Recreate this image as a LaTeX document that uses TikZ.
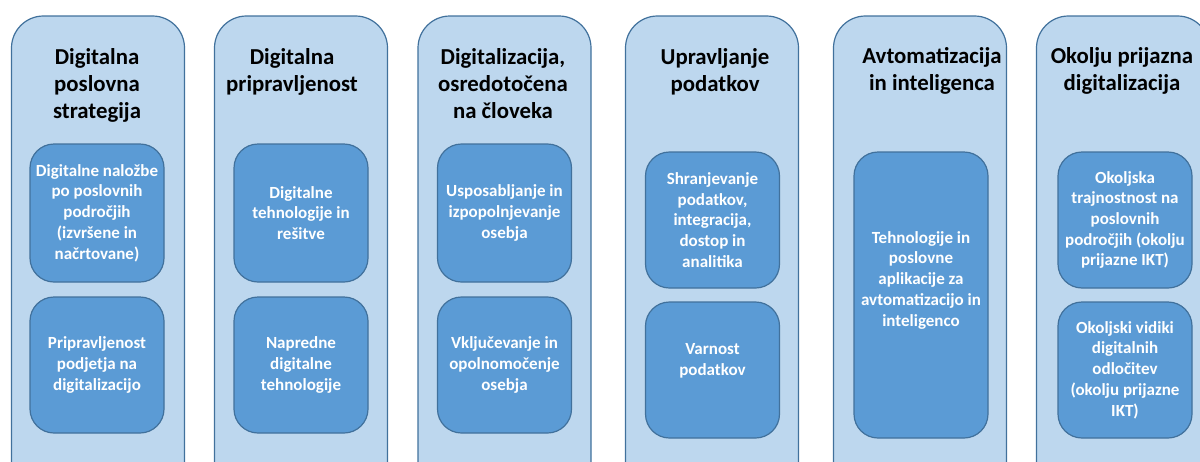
\documentclass[tikz,border=0pt]{standalone}
\usepackage{fontspec}
\setmainfont{Carlito}
\usepackage{xcolor}
\usepackage{tikz}

\definecolor{pillarblue}{HTML}{BDD7EE}
\definecolor{itemblue}{HTML}{5B9BD5}
\definecolor{edgeblue}{HTML}{41719C}

\begin{document}
\begin{tikzpicture}[x=1pt, y=-1pt,
    pillar/.style={draw=edgeblue, line width=1.2pt, fill=pillarblue, rectangle, rounded corners=32pt, minimum width=173pt, minimum height=476pt},
    heading/.style={anchor=north, inner sep=0pt, align=center, font=\fontsize{22.8}{27}\selectfont\bfseries},
    item/.style={draw=edgeblue, line width=1.2pt, fill=itemblue, rectangle, rounded corners=24pt, minimum width=134pt, text=white, align=center, inner sep=0pt, font=\fontsize{17}{20.7}\selectfont\bfseries}]
            \useasboundingbox (0,0) rectangle (1200,461);
            \clip (0,0) rectangle (1200,461);

            % columns
            \node[pillar] (strategija) at (98,254) {};
            \node[pillar] (pripravljenost) at (301,254) {};
            \node[pillar] (clovek) at (504.5,254) {};
            \node[pillar] (podatki) at (712,254) {};
            \node[pillar] (avtomatizacija) at (920,254) {};
            \node[pillar] (okolje) at (1123,254) {};

            % headings
            \node[heading] (strategijaT) at (97,48) {Digitalna\\poslovna\\strategija};
            \node[heading] (pripravljenostT) at (292,48) {Digitalna\\pripravljenost};
            \node[heading] (clovekT) at (503,48) {Digitalizacija,\\osredotočena\\na človeka};
            \node[heading] (podatkiT) at (715,48) {Upravljanje\\podatkov};
            \node[heading] (avtomatizacijaT) at (932,47) {Avtomatizacija\\in inteligenca};
            \node[heading] (okoljeT) at (1122,47) {Okolju prijazna\\digitalizacija};

            % items
            \node[item, minimum height=138pt] (nalozbe) at (97,213) {Digitalne naložbe\\po poslovnih\\področjih\\(izvršene in\\načrtovane)};
            \node[item, minimum height=136pt] (podjetje) at (97,365) {Pripravljenost\\podjetja na\\digitalizacijo};
            \node[item, minimum height=138pt] (resitve) at (301,213) {Digitalne\\tehnologije in\\rešitve};
            \node[item, minimum height=136pt] (napredne) at (301,365) {Napredne\\digitalne\\tehnologije};
            \node[item, minimum height=138pt] (usposabljanje) at (504.5,213) {Usposabljanje in\\izpopolnjevanje\\osebja};
            \node[item, minimum height=136pt] (vkljucevanje) at (504.5,365) {Vključevanje in\\opolnomočenje\\osebja};
            \node[item, minimum height=136pt] (shranjevanje) at (712.5,220) {Shranjevanje\\podatkov,\\integracija,\\dostop in\\analitika};
            \node[item, minimum height=136pt] (varnost) at (712.5,370) {Varnost\\podatkov\\~};
            \node[item, minimum height=286pt] (aplikacije) at (921,295) {Tehnologije in\\poslovne\\aplikacije za\\avtomatizacijo in\\inteligenco\\[12pt]~};
            \node[item, minimum height=136pt] (trajnostnost) at (1125,220) {Okoljska\\trajnostnost na\\poslovnih\\področjih (okolju\\prijazne IKT)};
            \node[item, minimum height=136pt] (vidiki) at (1125,370) {Okoljski vidiki\\digitalnih\\odločitev\\(okolju prijazne\\IKT)};
        \end{tikzpicture}
\end{document}
